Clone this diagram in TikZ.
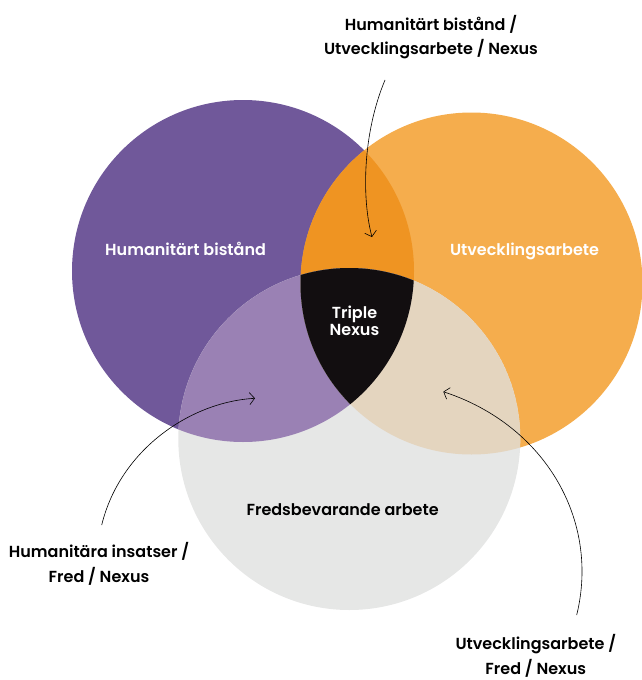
\documentclass[tikz,border=0pt]{standalone}
\usepackage{fontspec}
\setmainfont{Poppins}[BoldFont={Poppins SemiBold}]
\usetikzlibrary{arrows.meta,positioning}

\definecolor{humpurple}{HTML}{70589A}
\definecolor{devorange}{HTML}{F5AD4D}
\definecolor{peacegrey}{HTML}{E6E7E6}
\definecolor{humdev}{HTML}{EF9422}
\definecolor{humpeace}{HTML}{9A81B4}
\definecolor{devpeace}{HTML}{E4D5BF}
\definecolor{nexus}{HTML}{120E10}

\begin{document}
\begin{tikzpicture}[x=1pt, y=-1pt, font=\bfseries\fontsize{16}{24.5}\selectfont,
	callout/.style={align=center, text=black},
	inner/.style={align=center, text=white},
	pointer/.style={-{Straight Barb[length=5pt,width=12pt]}, line width=0.6pt}]
	\useasboundingbox (0,0) rectangle (641,680);
	
	\coordinate (hum) at (243,271);
	\coordinate (dev) at (471.5,283.5);
	\coordinate (peace) at (349.3,439);
	
	% the three circles
	\fill[humpurple] (hum) circle[radius=171pt];
	\fill[devorange] (dev) circle[radius=171pt];
	\fill[peacegrey] (peace) circle[radius=171pt];
	
	% overlaps
	\begin{scope}
		\clip (hum) circle[radius=171pt];
		\fill[humdev] (dev) circle[radius=171pt];
		\fill[humpeace] (peace) circle[radius=171pt];
		\clip (dev) circle[radius=171pt];
		\fill[nexus] (peace) circle[radius=171pt];
	\end{scope}
	\begin{scope}
		\clip (dev) circle[radius=171pt];
		\clip (peace) circle[radius=171pt];
		\fill[devpeace] (peace) circle[radius=171pt];
		\clip (hum) circle[radius=171pt];
		\fill[nexus] (peace) circle[radius=171pt];
	\end{scope}
	
	\node[inner] (humtxt) at (185.6,248.5) {Humanitärt bistånd};
	\node[inner] (devtxt) at (524.5,251.5) {Utvecklingsarbete};
	\node[inner, font=\bfseries\fontsize{16}{17.5}\selectfont] (nexustxt) at (354.5,321) {Triple\\Nexus};
	\node[callout] (peacetxt) at (342.6,509.5) {Fredsbevarande arbete};
	
	\node[callout] (humdevtxt) at (431,37) {Humanitärt bistånd /\\Utvecklingsarbete / Nexus};
	\node[callout] (humpeacetxt) at (99,564) {Humanitära insatser /\\Fred / Nexus};
	\node[callout] (devpeacetxt) at (535.8,656) {Utvecklingsarbete /\\Fred / Nexus};
	
	\coordinate (topfrom) at (385,80);
	\coordinate (topto) at (372,237);
	\coordinate (leftfrom) at (101.7,525);
	\coordinate (leftto) at (255,398.3);
	\coordinate (rightfrom) at (576.7,615);
	\coordinate (rightto) at (443.3,391.7);
	
	\draw[pointer] (topfrom) .. controls (362,135) and (362,200) .. (topto);
	\draw[pointer] (leftfrom) .. controls (120,450) and (190,402) .. (leftto);
	\draw[pointer] (rightfrom) .. controls (600,520) and (545,425) .. (rightto);
\end{tikzpicture}
\end{document}
